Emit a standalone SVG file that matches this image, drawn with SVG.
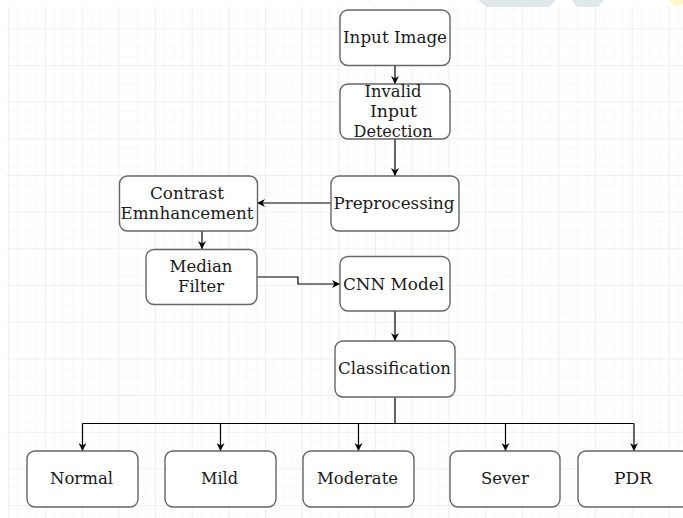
<svg xmlns="http://www.w3.org/2000/svg" width="683" height="518" viewBox="0 0 683 518">
<style>
.node rect{fill:#ffffff;stroke:#666666;stroke-width:1.4}
.node text{font-family:"DejaVu Serif","Liberation Serif",serif;font-size:16px;fill:#1a1a1a;text-anchor:middle}
.conn path{fill:none;stroke:#000000;stroke-width:1.2}
</style>
<defs>
<pattern id="minor" patternUnits="userSpaceOnUse" x="8.3" y="1" width="9.17" height="9.17">
<path d="M0 0H9.17M0 0V9.17" fill="none" stroke="#f3f3f3" stroke-width="1"/>
</pattern>
<pattern id="major" patternUnits="userSpaceOnUse" x="8.3" y="-8.4" width="36.67" height="36.67">
<path d="M0 0H36.67M0 0V36.67" fill="none" stroke="#e6e6e6" stroke-width="1"/>
</pattern>
<marker id="arr" viewBox="0 0 10 10" refX="10" refY="5" markerWidth="8" markerHeight="8" markerUnits="userSpaceOnUse" orient="auto">
<path d="M0 0L10 5L0 10L3 5Z" fill="#000000"/>
</marker>
</defs>
<rect x="0" y="0" width="683" height="518" fill="#ffffff"/>
<rect x="7" y="7" width="676" height="511" fill="url(#minor)"/>
<rect x="7" y="7" width="676" height="511" fill="url(#major)"/>
<g id="watermark">
<polygon points="478,0 556,0 549,7 486,7" fill="#dfe9eb"/>
<polygon points="572,0 604,0 598,7 577,7" fill="#dfe9eb"/>
<polygon points="669,0 683,0 683,4 676,7" fill="#fff5c8"/>
</g>
<g id="connectors" class="conn">
<path d="M395 65.5V84" marker-end="url(#arr)"/>
<path d="M395 139V176" marker-end="url(#arr)"/>
<path d="M331 203H257" marker-end="url(#arr)"/>
<path d="M202 231V249" marker-end="url(#arr)"/>
<path d="M257 277H298V284H340" marker-end="url(#arr)"/>
<path d="M395 311V341" marker-end="url(#arr)"/>
<path d="M395 397V423.5"/>
<path d="M82.5 423.5H634"/>
<path d="M82.5 423.5V451" marker-end="url(#arr)"/>
<path d="M220.5 423.5V451" marker-end="url(#arr)"/>
<path d="M358.5 423.5V451" marker-end="url(#arr)"/>
<path d="M505.5 423.5V451" marker-end="url(#arr)"/>
<path d="M634 423.5V451" marker-end="url(#arr)"/>
</g>
<g id="input-image" class="node"><rect x="340" y="10" width="110" height="55.5" rx="8"/><text x="395" y="43" textLength="104" lengthAdjust="spacingAndGlyphs">Input Image</text></g>
<g id="invalid-input" class="node"><rect x="340" y="84" width="110" height="55" rx="8"/><text x="393" y="97" textLength="57" lengthAdjust="spacingAndGlyphs">Invalid</text><text x="393.5" y="117" textLength="47" lengthAdjust="spacingAndGlyphs">Input</text><text x="393" y="137" textLength="79" lengthAdjust="spacingAndGlyphs">Detection</text></g>
<g id="preprocessing" class="node"><rect x="331" y="176" width="128" height="55" rx="8"/><text x="394" y="208.5" textLength="121" lengthAdjust="spacingAndGlyphs">Preprocessing</text></g>
<g id="contrast" class="node"><rect x="119.5" y="176" width="138" height="55" rx="8"/><text x="187" y="198.5" textLength="74" lengthAdjust="spacingAndGlyphs">Contrast</text><text x="187" y="218.5" textLength="133" lengthAdjust="spacingAndGlyphs">Emnhancement</text></g>
<g id="median" class="node"><rect x="146" y="249.5" width="111" height="55" rx="8"/><text x="201" y="272" textLength="63" lengthAdjust="spacingAndGlyphs">Median</text><text x="201" y="292" textLength="46" lengthAdjust="spacingAndGlyphs">Filter</text></g>
<g id="cnn" class="node"><rect x="340" y="256.5" width="110" height="54.5" rx="8"/><text x="393.5" y="289.5" textLength="101" lengthAdjust="spacingAndGlyphs">CNN Model</text></g>
<g id="classification" class="node"><rect x="335" y="341" width="120" height="56" rx="8"/><text x="394.5" y="373.5" textLength="113" lengthAdjust="spacingAndGlyphs">Classification</text></g>
<g id="normal" class="node"><rect x="27" y="451" width="111" height="56" rx="8"/><text x="81.5" y="483.5" textLength="63" lengthAdjust="spacingAndGlyphs">Normal</text></g>
<g id="mild" class="node"><rect x="165" y="451" width="111" height="56" rx="8"/><text x="219.5" y="483.5" textLength="37" lengthAdjust="spacingAndGlyphs">Mild</text></g>
<g id="moderate" class="node"><rect x="303" y="451" width="111" height="56" rx="8"/><text x="357.5" y="483.5" textLength="81" lengthAdjust="spacingAndGlyphs">Moderate</text></g>
<g id="sever" class="node"><rect x="450" y="451" width="110" height="56" rx="8"/><text x="505" y="483.5" textLength="48" lengthAdjust="spacingAndGlyphs">Sever</text></g>
<g id="pdr" class="node"><rect x="578" y="451" width="111" height="56" rx="8"/><text x="633" y="483.5" textLength="38" lengthAdjust="spacingAndGlyphs">PDR</text></g>
</svg>
